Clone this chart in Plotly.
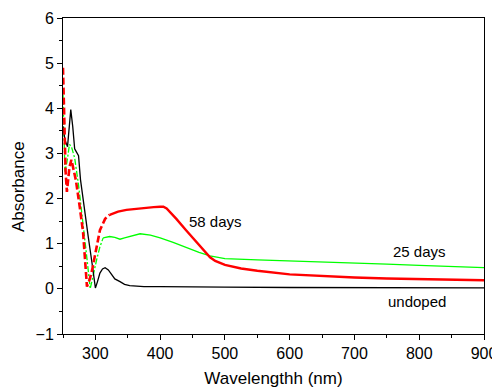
import plotly.graph_objects as go

# Undoped (black)
und_x = [250, 253, 257, 260, 262, 265, 268, 270, 274, 277, 283, 289, 295, 300, 303, 307, 311, 315, 320, 325, 330, 338, 345, 353, 375, 400, 450, 500, 600, 700, 800, 900]
und_y = [3.6, 3.3, 3.15, 3.6, 3.97, 3.6, 3.1, 3.05, 2.95, 2.42, 1.75, 1.15, 0.55, 0.02, 0.15, 0.35, 0.44, 0.47, 0.42, 0.32, 0.22, 0.16, 0.1, 0.07, 0.05, 0.05, 0.04, 0.04, 0.03, 0.03, 0.02, 0.02]

# 58 days (red) - steep part dashed, rest solid
red_dash_x = [250, 252, 254, 256, 258, 260, 263, 270, 276, 281, 287, 291, 295, 300, 307, 315, 322]
red_dash_y = [4.9, 3.8, 2.6, 2.15, 2.4, 2.7, 2.86, 2.4, 1.8, 1.25, 0.05, 0.2, 0.42, 0.8, 1.3, 1.55, 1.64]
red_x = [322, 335, 348, 370, 390, 400, 405, 410, 415, 425, 440, 455, 470, 477, 485, 500, 525, 550, 600, 650, 700, 750, 800, 850, 900]
red_y = [1.64, 1.71, 1.75, 1.79, 1.81, 1.82, 1.82, 1.78, 1.71, 1.55, 1.3, 1.05, 0.82, 0.7, 0.62, 0.53, 0.45, 0.4, 0.32, 0.28, 0.25, 0.23, 0.22, 0.2, 0.19]

# 25 days (green) - steep part dash-dot, rest solid
grn_dash_x = [250, 253, 256, 260, 263, 268, 274, 280, 286, 292, 297, 302, 307, 312]
grn_dash_y = [4.3, 2.6, 2.8, 3.2, 3.15, 2.9, 2.3, 1.6, 0.8, 0.0, 0.35, 0.65, 0.93, 1.13]
grn_x = [312, 322, 330, 338, 345, 355, 369, 385, 400, 420, 441, 460, 477, 490, 500, 550, 600, 650, 700, 750, 800, 850, 900]
grn_y = [1.13, 1.16, 1.14, 1.1, 1.13, 1.17, 1.22, 1.19, 1.13, 1.03, 0.91, 0.81, 0.73, 0.69, 0.67, 0.64, 0.62, 0.6, 0.57, 0.55, 0.52, 0.5, 0.47]

labels = ["58 days", "25 days", "undoped"]
label_x = [486, 801, 796]
label_y = [1.5, 0.82, -0.29]

FONT = "Liberation Sans, Arial"

fig = go.Figure()
fig.add_trace(go.Scatter(x=grn_dash_x, y=grn_dash_y, mode="lines",
                         line=dict(color="#00ff00", width=1.3, dash="6px,2px,2px,2px")))
fig.add_trace(go.Scatter(x=grn_x, y=grn_y, mode="lines",
                         line=dict(color="#00ff00", width=1.3)))
fig.add_trace(go.Scatter(x=und_x, y=und_y, mode="lines",
                         line=dict(color="black", width=1.3)))
fig.add_trace(go.Scatter(x=red_dash_x, y=red_dash_y, mode="lines",
                         line=dict(color="#ff0000", width=2.6, dash="7px,3px")))
fig.add_trace(go.Scatter(x=red_x, y=red_y, mode="lines",
                         line=dict(color="#ff0000", width=2.4)))

for t, x, y in zip(labels, label_x, label_y):
    fig.add_annotation(x=x, y=y, text=t, showarrow=False,
                       font=dict(family=FONT, size=15, color="black"))

# y-axis title placed as a rotated annotation so it can sit slightly below centre, as in the reference
fig.add_annotation(xref="paper", yref="paper", x=-0.107, y=0.468, text="Absorbance",
                   textangle=-90, showarrow=False, xanchor="center", yanchor="middle",
                   font=dict(family=FONT, size=17, color="black"))

axis_common = dict(showline=True, linecolor="black", linewidth=1, mirror=True,
                   ticks="outside", ticklen=5, tickcolor="black", showgrid=False,
                   zeroline=False, automargin=False,
                   tickfont=dict(family=FONT, size=16, color="black"))

fig.update_xaxes(range=[250, 900], tickvals=[300, 400, 500, 600, 700, 800, 900],
                 minor=dict(ticks="outside", ticklen=3, dtick=50, tick0=250, tickcolor="black"),
                 title=dict(text="Wavelengthh (nm)", font=dict(family=FONT, size=17, color="black"), standoff=11),
                 **axis_common)
fig.update_yaxes(range=[-1, 6], dtick=1, tick0=0,
                 minor=dict(ticks="outside", ticklen=3, dtick=0.5, tick0=0, tickcolor="black"),
                 **axis_common)

# page body has an 8px default margin, so the figure is sized to fill the rest of the 500x388 window
fig.update_layout(width=492, height=380, margin=dict(l=55, r=16, t=10, b=54),
                  plot_bgcolor="white", paper_bgcolor="white", showlegend=False)

fig.write_html("out.html")
